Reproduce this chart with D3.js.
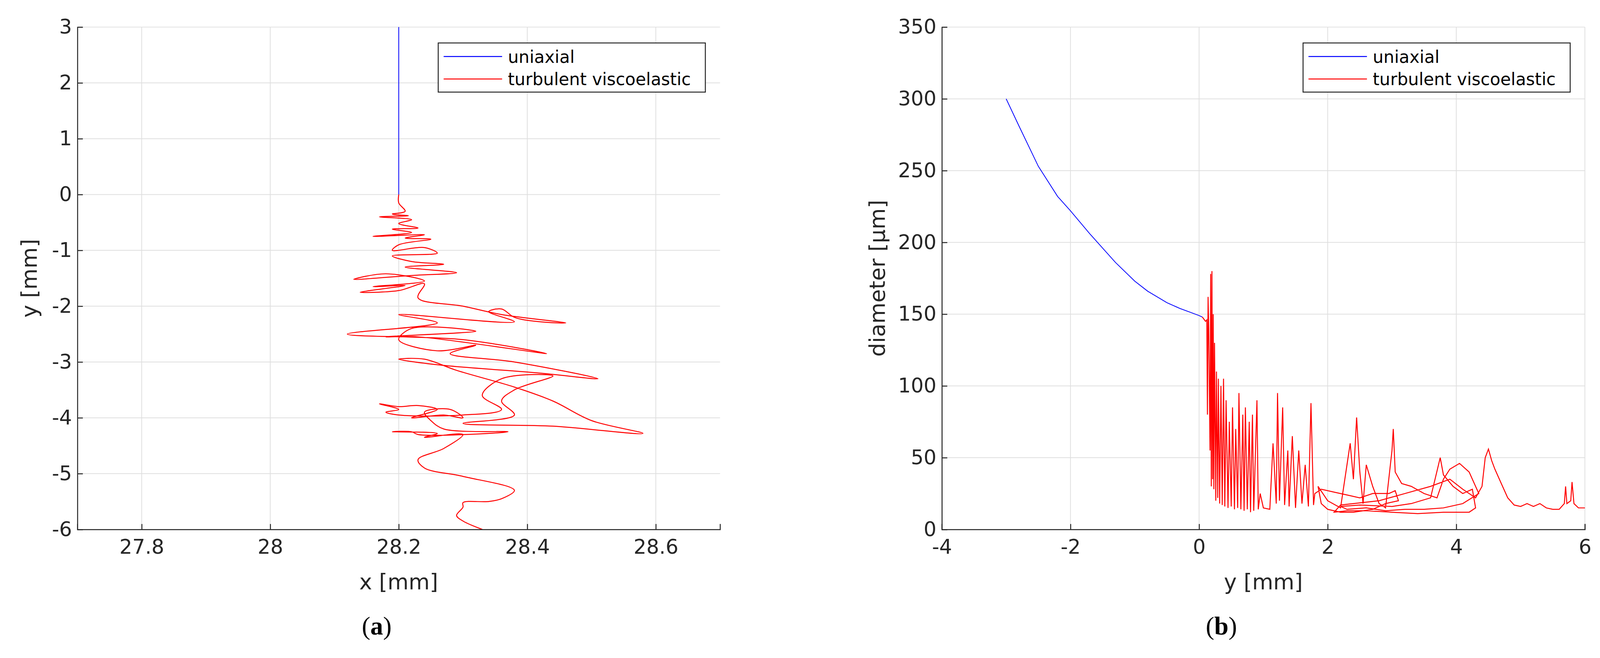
<!DOCTYPE html>
<html><head><meta charset="utf-8">
<script src="https://cdn.jsdelivr.net/npm/d3@7"></script>
<style>html,body{margin:0;background:#fff;overflow:hidden}svg{display:block}</style>
</head><body>
<script>
// panel (a): trajectory
const aUniaxial = [[28.2, 3], [28.2, 0]];
const aTurbulent = [
  [28.2,0],[28.2,-0.15],[28.21,-0.3],[28.19,-0.35],[28.215,-0.38],[28.17,-0.4],[28.22,-0.45],[28.2,-0.52],
  [28.23,-0.6],[28.19,-0.62],[28.22,-0.68],[28.16,-0.75],[28.24,-0.72],[28.21,-0.78],[28.25,-0.8],[28.2,-0.9],
  [28.19,-1.0],[28.24,-0.95],[28.26,-1.05],[28.19,-1.1],[28.22,-1.2],[28.27,-1.25],[28.21,-1.3],[28.29,-1.4],
  [28.22,-1.45],[28.13,-1.52],[28.18,-1.42],[28.24,-1.55],[28.16,-1.65],[28.21,-1.63],[28.14,-1.75],[28.2,-1.72],
  [28.24,-1.6],[28.23,-1.85],[28.3,-2.0],[28.36,-2.15],[28.46,-2.3],[28.42,-2.28],[28.38,-2.2],[28.36,-2.05],[28.34,-2.1],
  [28.38,-2.28],[28.2,-2.15],[28.26,-2.3],[28.12,-2.5],[28.3,-2.6],[28.43,-2.85],[28.23,-2.55],[28.18,-2.55],
  [28.32,-2.45],[28.22,-2.4],[28.2,-2.6],[28.26,-2.8],[28.32,-2.7],[28.28,-2.85],[28.38,-3.0],[28.51,-3.3],
  [28.42,-3.2],[28.26,-3.05],[28.2,-2.95],[28.24,-2.95],[28.29,-3.15],[28.38,-3.45],[28.44,-3.7],[28.5,-4.05],
  [28.58,-4.28],[28.44,-4.15],[28.3,-4.1],[28.38,-3.95],[28.36,-3.7],[28.38,-3.5],[28.44,-3.25],[28.36,-3.3],
  [28.33,-3.6],[28.36,-3.85],[28.3,-3.95],[28.2,-3.95],[28.18,-3.9],[28.2,-3.85],[28.17,-3.75],[28.2,-3.8],
  [28.23,-3.78],[28.26,-3.85],[28.22,-4.0],[28.27,-3.95],[28.3,-4.0],[28.28,-3.85],[28.24,-3.9],[28.25,-4.05],
  [28.27,-4.2],[28.37,-4.25],[28.23,-4.3],[28.22,-4.25],[28.19,-4.25],[28.26,-4.28],[28.24,-4.35],[28.3,-4.3],
  [28.27,-4.55],[28.23,-4.75],[28.24,-4.9],[28.3,-5.05],[28.38,-5.3],[28.36,-5.45],[28.34,-5.5],[28.3,-5.52],
  [28.3,-5.6],[28.29,-5.75],[28.3,-5.85],[28.33,-6.0]
];
// panel (b): diameter vs y
const bUniaxial = [[-3,300],[-2.8,281],[-2.5,253],[-2.2,232],[-2,222],[-1.7,206],[-1.5,196],[-1.3,186],
  [-1,173],[-0.8,166],[-0.5,158],[-0.3,154],[0,149],[0.05,148]];
const bTurbulent = [
  [0.05,148],[0.1,145],[0.12,146],[0.13,80],[0.14,162],[0.15,140],[0.17,55],[0.18,178],[0.19,30],[0.2,180],
  [0.21,35],[0.22,150],[0.23,28],[0.24,130],[0.26,20],[0.27,110],[0.29,22],[0.3,105],[0.32,18],[0.34,100],
  [0.36,17],[0.38,105],[0.4,16],[0.42,90],[0.45,15],[0.47,75],[0.5,16],[0.52,85],[0.55,14],[0.57,70],
  [0.6,15],[0.62,95],[0.65,14],[0.68,80],[0.7,13],[0.72,85],[0.75,14],[0.78,75],[0.8,12],[0.83,80],
  [0.85,13],[0.9,90],[0.92,14],[0.95,25],[1.0,15],[1.1,14],[1.15,60],[1.2,18],[1.22,95],[1.25,20],
  [1.3,85],[1.33,17],[1.38,55],[1.4,16],[1.45,65],[1.5,15],[1.55,55],[1.6,18],[1.65,45],[1.7,16],
  [1.74,88],[1.78,17],[1.8,25],[1.9,28],[2.1,26],[2.3,24],[2.5,22],[2.7,25],[2.95,25],[3.05,27],
  [3.1,20],[2.9,18],[2.7,14],[2.4,12],[2.2,12],[2.0,14],[1.9,18],[1.85,30],[2.0,20],[2.2,15],
  [2.35,60],[2.4,35],[2.45,78],[2.5,40],[2.55,18],[2.6,45],[2.7,30],[2.8,18],[2.9,15],[3.0,55],
  [3.02,70],[3.05,40],[3.15,32],[3.3,30],[3.5,25],[3.7,22],[3.8,35],[3.9,42],[4.05,46],[4.2,40],
  [4.3,30],[4.35,25],[4.1,18],[3.8,15],[3.5,14],[3.2,14],[2.9,13],[2.6,15],[2.3,14],[2.2,16],
  [2.5,17],[3.0,16],[3.3,18],[3.6,22],[3.75,50],[3.8,38],[3.95,30],[4.1,25],[4.25,28],[4.3,15],
  [4.2,12],[3.8,12],[3.4,11],[3.0,12],[2.6,13],[2.3,13],[2.1,12],[2.2,17],[2.8,20],[3.2,25],
  [3.6,30],[3.9,35],[4.1,28],[4.3,22],[4.4,30],[4.45,50],[4.5,56],[4.55,48],[4.6,42],[4.7,32],
  [4.8,22],[4.9,17],[5.0,16],[5.1,18],[5.2,16],[5.3,18],[5.4,15],[5.5,14],[5.6,14],[5.68,18],
  [5.7,30],[5.72,18],[5.78,20],[5.8,33],[5.83,18],[5.9,15],[6.0,15]
];
const aXTicks = [27.8, 28, 28.2, 28.4, 28.6];
const aYTicks = [-6, -5, -4, -3, -2, -1, 0, 1, 2, 3];
const bXTicks = [-4, -2, 0, 2, 4, 6];
const bYTicks = [0, 50, 100, 150, 200, 250, 300, 350];
const seriesNames = ["uniaxial", "turbulent viscoelastic"];
const seriesColors = ["#0000ff", "#ff0000"];

const W = 4133, H = 1685;
const svg = d3.select("body").append("svg")
  .attr("width", "100%").attr("viewBox", `0 0 ${W} ${H}`).attr("preserveAspectRatio", "xMinYMin meet");
const font = "'DejaVu Sans', sans-serif";

function panel(o) {
  const x = d3.scaleLinear().domain(o.xd).range([o.l, o.r]);
  const y = d3.scaleLinear().domain(o.yd).range([o.b, o.t]);
  const g = svg.append("g");
  // grid
  g.selectAll(".gx").data(o.xt).enter().append("line")
    .attr("x1", d => x(d)).attr("x2", d => x(d)).attr("y1", o.t).attr("y2", o.b)
    .attr("stroke", "#dfdfdf").attr("stroke-width", 2);
  g.selectAll(".gy").data(o.yt).enter().append("line")
    .attr("y1", d => y(d)).attr("y2", d => y(d)).attr("x1", o.l).attr("x2", o.r)
    .attr("stroke", "#dfdfdf").attr("stroke-width", 2);
  const line = d3.line().x(d => x(d[0])).y(d => y(d[1]));
  g.append("path").datum(o.s1).attr("d", line).attr("fill", "none").attr("stroke", seriesColors[0]).attr("stroke-width", 2);
  g.append("path").datum(o.s2).attr("d", line.curve(o.curve)).attr("fill", "none").attr("stroke", seriesColors[1]).attr("stroke-width", 2.5);
  const xa = g.append("g").attr("transform", `translate(0,${o.b})`)
    .call(d3.axisBottom(x).tickValues(o.xt).tickSize(-14).tickPadding(26).tickFormat(d => String(d)));
  const ya = g.append("g").attr("transform", `translate(${o.l},0)`)
    .call(d3.axisLeft(y).tickValues(o.yt).tickSize(-14).tickPadding(14).tickFormat(d => String(d)));
  [xa, ya].forEach(a => {
    a.selectAll("path,line").attr("stroke", "#262626").attr("stroke-width", 2.5);
    a.selectAll("text").attr("font-family", font).attr("font-size", 52).attr("fill", "#262626");
  });
  g.append("text").attr("x", (o.l + o.r) / 2).attr("y", o.b + 155).attr("text-anchor", "middle")
    .attr("font-family", font).attr("font-size", 56).attr("fill", "#262626").text(o.xl);
  g.append("text").attr("transform", `translate(${o.yx},${(o.t + o.b) / 2}) rotate(-90)`).attr("text-anchor", "middle")
    .attr("font-family", font).attr("font-size", 56).attr("fill", "#262626").text(o.yl);
  // legend
  const lg = g.append("g");
  lg.append("rect").attr("x", o.lx).attr("y", 111).attr("width", 690).attr("height", 127)
    .attr("fill", "#fff").attr("stroke", "#262626").attr("stroke-width", 2.5);
  seriesNames.forEach((n, i) => {
    const yy = 146 + i * 58;
    lg.append("line").attr("x1", o.lx + 14).attr("x2", o.lx + 165).attr("y1", yy).attr("y2", yy)
      .attr("stroke", seriesColors[i]).attr("stroke-width", 2.5);
    lg.append("text").attr("x", o.lx + 180).attr("y", yy + 16).attr("font-family", font).attr("font-size", 44)
      .attr("fill", "#000").text(n);
  });
  g.append("text").attr("x", o.cx).attr("y", 1640).attr("text-anchor", "middle")
    .attr("font-family", "'Liberation Serif', serif").attr("font-size", 66).attr("fill", "#000")
    .html(o.cap);
}

panel({ l: 200, r: 1860, t: 70, b: 1368, xd: [27.7, 28.7], yd: [-6, 3], xt: aXTicks, yt: aYTicks,
  s1: aUniaxial, s2: aTurbulent, xl: "x [mm]", yl: "y [mm]", yx: 95, lx: 1132, cx: 973,
  curve: d3.curveCatmullRom.alpha(0.5),
  cap: "(<tspan font-weight='bold'>a</tspan>)" });
panel({ l: 2433, r: 4094, t: 70, b: 1368, xd: [-4, 6], yd: [0, 350], xt: bXTicks, yt: bYTicks,
  s1: bUniaxial, s2: bTurbulent, xl: "y [mm]", yl: "diameter [µm]", yx: 2285, lx: 3366, cx: 3155,
  curve: d3.curveLinear,
  cap: "(<tspan font-weight='bold'>b</tspan>)" });
</script>
</body></html>
